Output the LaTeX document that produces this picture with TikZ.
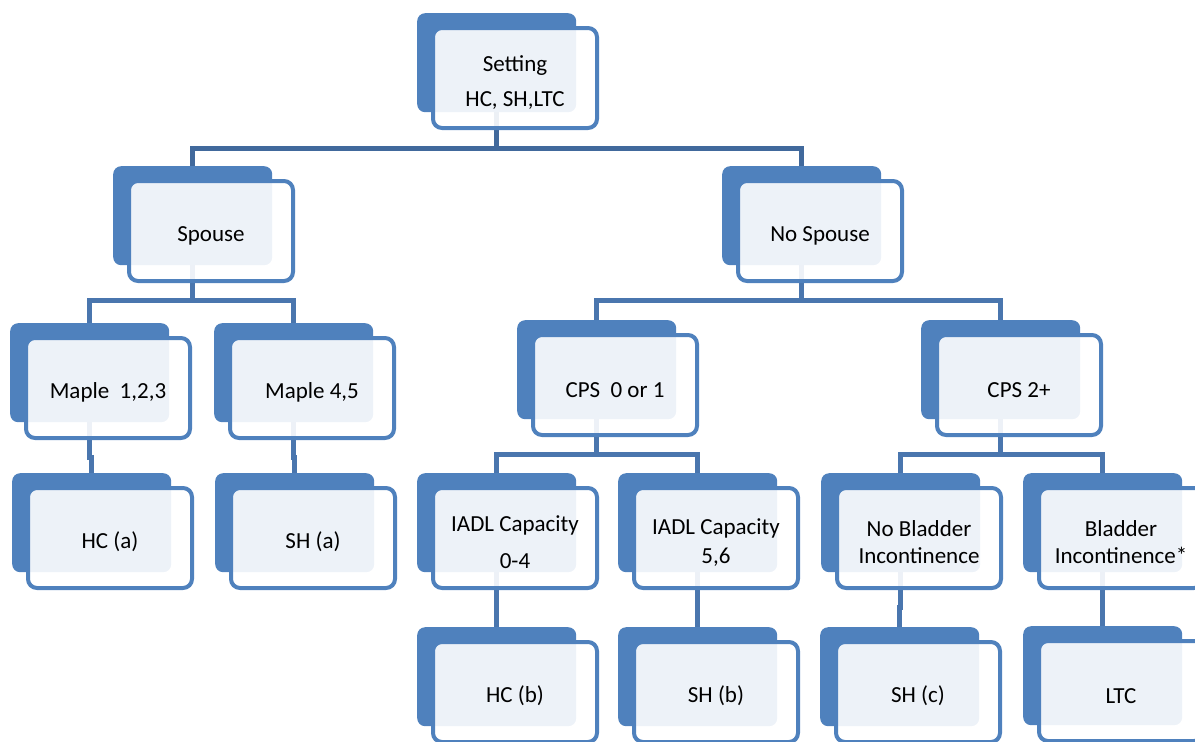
\documentclass[tikz,border=0pt]{standalone}
\usepackage{fontspec}
\setmainfont{Carlito}
\usepackage{tikz}
\usetikzlibrary{positioning}
\usetikzlibrary{calc}
\definecolor{boxblue}{HTML}{4F81BD}
\definecolor{linkblue}{HTML}{4A76AE}
\definecolor{topblue}{HTML}{41699C}
\tikzstyle{backbox}=[rectangle,rounded corners=8pt,fill=boxblue,minimum width=159pt,minimum height=99pt,inner sep=0pt,anchor=north west]
\tikzstyle{frontbox}=[rectangle,rounded corners=9pt,draw=boxblue,line width=4pt,fill=white,fill opacity=0.9,text opacity=1,minimum width=164pt,minimum height=100pt,inner sep=0pt,anchor=north west,align=center,font=\fontsize{23}{29}\selectfont]
\tikzstyle{link} = [draw,linkblue,line width=4.5pt]
\tikzstyle{toplink} = [draw,topblue,line width=5pt]

\begin{document}
\begin{tikzpicture}[x=1pt,y=-1pt]
  \useasboundingbox (0,0) rectangle (1195,742);

  % back panels
  \foreach \pos/\name in {(417,13)/setting, (113,166)/spouse, (722,166)/nospouse,
      (10,323)/mapleA, (214,323)/mapleB, (517,320)/cpsA, (921,320)/cpsB,
      (12,473)/hca, (215,473)/sha, (417,473)/iadlA, (618,473)/iadlB, (821,473)/nobladder, (1023,473)/bladder,
      (417,627)/hcb, (618,627)/shb, (820,627)/shc, (1023,626)/ltc}
        \node[backbox] (\name) at \pos {};

  % connectors
  \foreach \source/\dest in {setting/spouse, setting/nospouse}
          \path[toplink] (\source.south) -- ++(0,36) -| (\dest.north);
  \foreach \source/\dest in {spouse/mapleA, spouse/mapleB, nospouse/cpsA, nospouse/cpsB,
      mapleA/hca, mapleB/sha, cpsA/iadlA, cpsA/iadlB, cpsB/nobladder, cpsB/bladder,
      iadlA/hcb, iadlB/shb, nobladder/shc, bladder/ltc}
          \path[link] (\source.south) -- ++(0,35) -| (\dest.north);

  % front panels
  \foreach \name/\label in {setting/{Setting\\[6pt]HC, SH,LTC}, spouse/Spouse, nospouse/No Spouse,
      mapleA/{Maple\ \ 1,2,3}, mapleB/{Maple 4,5}, cpsA/{CPS\ \ 0 or 1}, cpsB/{CPS 2+},
      hca/HC (a), sha/SH (a), iadlA/{IADL Capacity\\[8pt]0-4}, iadlB/{IADL Capacity\\5,6},
      nobladder/{No Bladder\\[-2pt]Incontinence}, bladder/{Bladder\\[-2pt]Incontinence*},
      hcb/HC (b), shb/SH (b), shc/SH (c), ltc/LTC}
        \node[frontbox] (\name F) at ($(\name.north west)+(14,13)$) {\rule{0pt}{25pt}\label};

\end{tikzpicture}
\end{document}
